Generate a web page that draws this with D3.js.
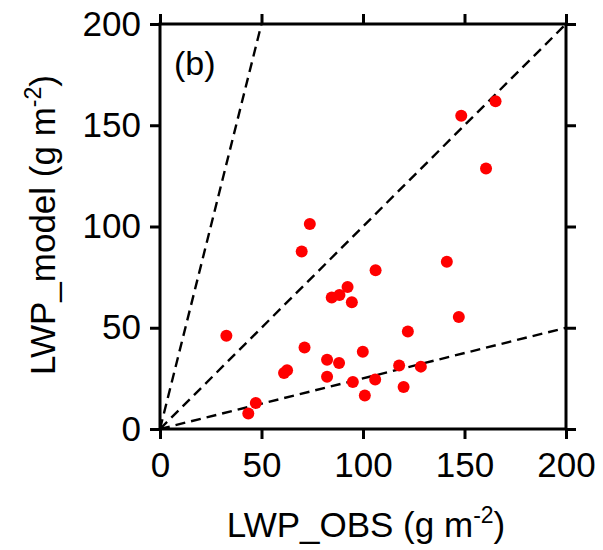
<!DOCTYPE html>
<html>
<head>
<meta charset="utf-8">
<script src="https://cdn.jsdelivr.net/npm/d3@7"></script>
<style>
  html, body { margin: 0; padding: 0; background: #fff; }
  svg text { font-family: "Liberation Sans", Arial, sans-serif; fill: #000; }
</style>
</head>
<body>
<svg id="chart" width="603" height="550"></svg>
<script>
// Data (g m-2)
const obs   = [148.4, 165.3, 160.6, 73.8, 69.8, 106.2, 141.3, 92.4, 88.4, 84.6, 94.5, 147.2, 32.7, 122.1, 71.2, 99.9, 82.3, 88.2, 117.8, 128.5, 62.6, 61.1, 82.3, 95.0, 106.0, 120.0, 100.9, 47.2, 43.5];
const model = [154.7, 161.8, 128.7, 101.2, 87.7, 78.4, 82.6, 70.1, 66.2, 64.9, 62.6, 55.3, 46.1, 48.1, 40.3, 38.2, 34.2, 32.6, 31.4, 30.8, 29.0, 27.7, 25.8, 23.2, 24.4, 20.7, 16.5, 12.8, 7.6];
const refSlopes = [4, 1, 0.25];
const tickValues = [0, 50, 100, 150, 200];
const panelLabel = "(b)";

const svg = d3.select("#chart");
const L = 160, R = 566, T = 24, B = 429;
const x = d3.scaleLinear().domain([0, 200]).range([L, R]);
const y = d3.scaleLinear().domain([0, 200]).range([B, T]);

// reference lines
const g = svg.append("g");
refSlopes.forEach(s => {
  const xe = Math.min(200, 200 / s);
  g.append("line")
    .attr("x1", x(0)).attr("y1", y(0))
    .attr("x2", x(xe)).attr("y2", y(xe * s))
    .attr("stroke", "#000").attr("stroke-width", 2.4)
    .attr("stroke-dasharray", "10,6");
});

// points
svg.append("g").selectAll("circle")
  .data(obs.map((o, i) => [o, model[i]]))
  .join("circle")
  .attr("cx", d => x(d[0])).attr("cy", d => y(d[1]))
  .attr("r", 6).attr("fill", "#ff0000");

// axes
function styleAxis(sel, showLabels) {
  sel.select(".domain").remove();
  sel.selectAll(".tick line").attr("stroke", "#000").attr("stroke-width", 3);
  sel.selectAll(".tick text").style("font-size", "35px");
  if (!showLabels) sel.selectAll(".tick text").remove();
}
const xb = svg.append("g").attr("transform", `translate(0,${B})`)
  .call(d3.axisBottom(x).tickValues(tickValues).tickSizeInner(10).tickSizeOuter(0).tickPadding(13));
styleAxis(xb, true);
const xt = svg.append("g").attr("transform", `translate(0,${T})`)
  .call(d3.axisTop(x).tickValues(tickValues).tickSizeInner(10).tickSizeOuter(0));
styleAxis(xt, false);
const yl = svg.append("g").attr("transform", `translate(${L},0)`)
  .call(d3.axisLeft(y).tickValues(tickValues).tickSizeInner(10).tickSizeOuter(0).tickPadding(9));
styleAxis(yl, true);
const yr = svg.append("g").attr("transform", `translate(${R},0)`)
  .call(d3.axisRight(y).tickValues(tickValues).tickSizeInner(10).tickSizeOuter(0));
styleAxis(yr, false);

// frame
svg.append("rect").attr("x", L).attr("y", T).attr("width", R - L).attr("height", B - T)
  .attr("fill", "none").attr("stroke", "#000").attr("stroke-width", 3);

// panel label
svg.append("text").attr("x", 174).attr("y", 75).style("font-size", "34px").text(panelLabel);

// axis titles
const xtitle = svg.append("text").attr("x", 366).attr("y", 537)
  .attr("text-anchor", "middle").style("font-size", "35px");
xtitle.append("tspan").text("LWP_OBS (g m");
xtitle.append("tspan").attr("dy", -14).style("font-size", "23px").text("-2");
xtitle.append("tspan").attr("dy", 14).text(")");

const ytitle = svg.append("text").attr("transform", `translate(55,225) rotate(-90)`)
  .attr("text-anchor", "middle").style("font-size", "35px");
ytitle.append("tspan").text("LWP_model (g m");
ytitle.append("tspan").attr("dy", -14).style("font-size", "23px").text("-2");
ytitle.append("tspan").attr("dy", 14).text(")");
</script>
</body>
</html>
